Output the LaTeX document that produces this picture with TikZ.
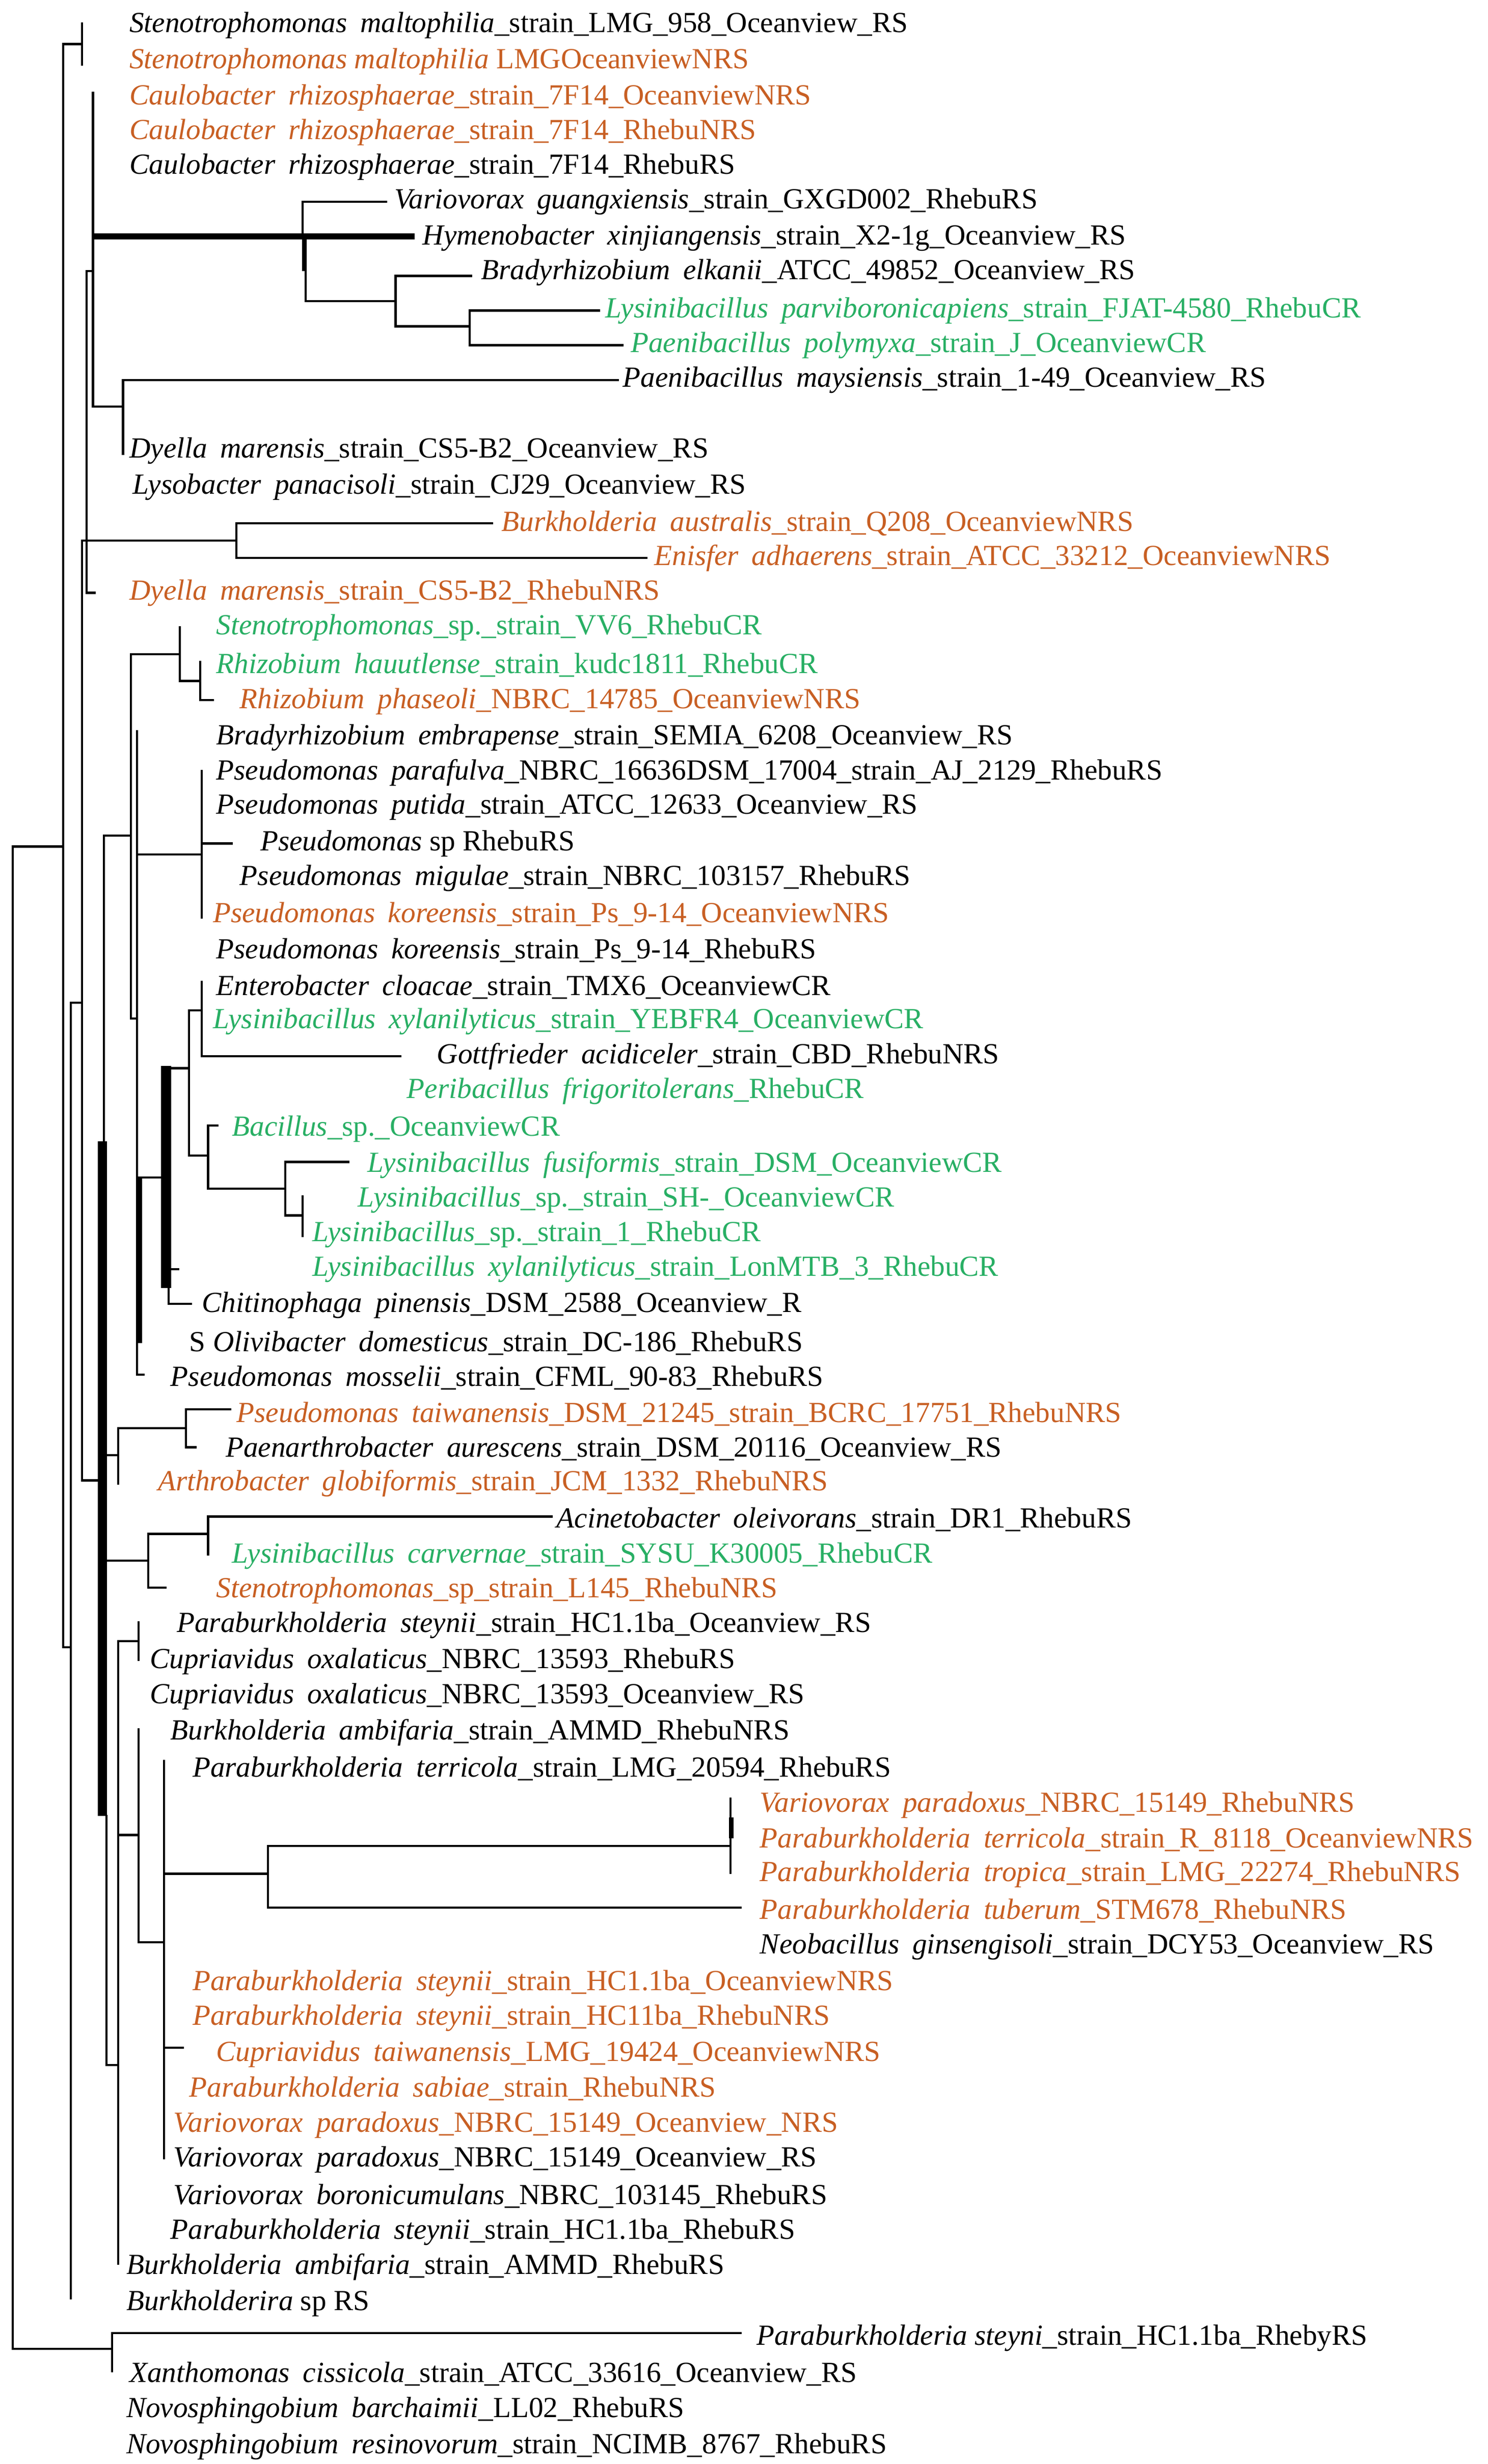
\documentclass[tikz,border=0pt]{standalone}
\usepackage{fontspec}
\setmainfont{Liberation Serif}
\definecolor{org}{RGB}{200,95,35}
\definecolor{grn}{RGB}{40,175,100}
\newcommand\lab[3]{\textit{#1}\hspace{0.45em}\textit{#2}#3}
\begin{document}
\begin{tikzpicture}[x=1pt,y=-1pt,
  tl/.style={anchor=west,inner sep=0pt,font=\fontsize{18.5}{18.5}\selectfont},
  k/.style={tl,text=black}, o/.style={tl,text=org}, g/.style={tl,text=grn},
  br/.style={line width=1.4pt,line cap=rect},
  thk/.style={line width=4pt}]
\useasboundingbox (0,0) rectangle (944,1563);
\fill[white] (0,0) rectangle (944,1563);
% labels
\node[k] (l1) at (82,16) {\lab{Stenotrophomonas}{maltophilia}{\_strain\_LMG\_958\_Oceanview\_RS}};
\node[o] (l2) at (82,39) {\textit{Stenotrophomonas maltophilia} LMGOceanviewNRS};
\node[o] (l3) at (82,62) {\lab{Caulobacter}{rhizosphaerae}{\_strain\_7F14\_OceanviewNRS}};
\node[o] (l4) at (82,84) {\lab{Caulobacter}{rhizosphaerae}{\_strain\_7F14\_RhebuNRS}};
\node[k] (l5) at (82,106) {\lab{Caulobacter}{rhizosphaerae}{\_strain\_7F14\_RhebuRS}};
\node[k] (l6) at (250,128) {\lab{Variovorax}{guangxiensis}{\_strain\_GXGD002\_RhebuRS}};
\node[k] (l7) at (268,151) {\lab{Hymenobacter}{xinjiangensis}{\_strain\_X2-1g\_Oceanview\_RS}};
\node[k] (l8) at (305,173) {\lab{Bradyrhizobium}{elkanii}{\_ATCC\_49852\_Oceanview\_RS}};
\node[g] (l9) at (384,197) {\lab{Lysinibacillus}{parviboronicapiens}{\_strain\_FJAT-4580\_RhebuCR}};
\node[g] (l10) at (400,219) {\lab{Paenibacillus}{polymyxa}{\_strain\_J\_OceanviewCR}};
\node[k] (l11) at (395,241) {\lab{Paenibacillus}{maysiensis}{\_strain\_1-49\_Oceanview\_RS}};
\node[k] (l12) at (82,286) {\lab{Dyella}{marensis}{\_strain\_CS5-B2\_Oceanview\_RS}};
\node[k] (l13) at (84,309) {\lab{Lysobacter}{panacisoli}{\_strain\_CJ29\_Oceanview\_RS}};
\node[o] (l14) at (318,332) {\lab{Burkholderia}{australis}{\_strain\_Q208\_OceanviewNRS}};
\node[o] (l15) at (415,354) {\lab{Enisfer}{adhaerens}{\_strain\_ATCC\_33212\_OceanviewNRS}};
\node[o] (l16) at (82,376) {\lab{Dyella}{marensis}{\_strain\_CS5-B2\_RhebuNRS}};
\node[g] (l17) at (137,398) {\textit{Stenotrophomonas}\_sp.\_strain\_VV6\_RhebuCR};
\node[g] (l18) at (137,422) {\lab{Rhizobium}{hauutlense}{\_strain\_kudc1811\_RhebuCR}};
\node[o] (l19) at (152,445) {\lab{Rhizobium}{phaseoli}{\_NBRC\_14785\_OceanviewNRS}};
\node[k] (l20) at (137,468) {\lab{Bradyrhizobium}{embrapense}{\_strain\_SEMIA\_6208\_Oceanview\_RS}};
\node[k] (l21) at (137,490) {\lab{Pseudomonas}{parafulva}{\_NBRC\_16636DSM\_17004\_strain\_AJ\_2129\_RhebuRS}};
\node[k] (l22) at (137,512) {\lab{Pseudomonas}{putida}{\_strain\_ATCC\_12633\_Oceanview\_RS}};
\node[k] (l23) at (165,535) {\textit{Pseudomonas} sp RhebuRS};
\node[k] (l24) at (152,557) {\lab{Pseudomonas}{migulae}{\_strain\_NBRC\_103157\_RhebuRS}};
\node[o] (l25) at (135,580) {\lab{Pseudomonas}{koreensis}{\_strain\_Ps\_9-14\_OceanviewNRS}};
\node[k] (l26) at (137,603) {\lab{Pseudomonas}{koreensis}{\_strain\_Ps\_9-14\_RhebuRS}};
\node[k] (l27) at (137,626) {\lab{Enterobacter}{cloacae}{\_strain\_TMX6\_OceanviewCR}};
\node[g] (l28) at (135,648) {\lab{Lysinibacillus}{xylanilyticus}{\_strain\_YEBFR4\_OceanviewCR}};
\node[k] (l29) at (277,670) {\lab{Gottfrieder}{acidiceler}{\_strain\_CBD\_RhebuNRS}};
\node[g] (l30) at (258,692) {\lab{Peribacillus}{frigoritolerans}{\_RhebuCR}};
\node[g] (l31) at (147,716) {\textit{Bacillus}\_sp.\_OceanviewCR};
\node[g] (l32) at (233,739) {\lab{Lysinibacillus}{fusiformis}{\_strain\_DSM\_OceanviewCR}};
\node[g] (l33) at (227,761) {\textit{Lysinibacillus}\_sp.\_strain\_SH-\_OceanviewCR};
\node[g] (l34) at (198,783) {\textit{Lysinibacillus}\_sp.\_strain\_1\_RhebuCR};
\node[g] (l35) at (198,805) {\lab{Lysinibacillus}{xylanilyticus}{\_strain\_LonMTB\_3\_RhebuCR}};
\node[k] (l36) at (128,828) {\lab{Chitinophaga}{pinensis}{\_DSM\_2588\_Oceanview\_R}};
\node[k] (l37) at (120,852) {S \lab{Olivibacter}{domesticus}{\_strain\_DC-186\_RhebuRS}};
\node[k] (l38) at (108,874) {\lab{Pseudomonas}{mosselii}{\_strain\_CFML\_90-83\_RhebuRS}};
\node[o] (l39) at (150,897) {\lab{Pseudomonas}{taiwanensis}{\_DSM\_21245\_strain\_BCRC\_17751\_RhebuNRS}};
\node[k] (l40) at (143,919) {\lab{Paenarthrobacter}{aurescens}{\_strain\_DSM\_20116\_Oceanview\_RS}};
\node[o] (l41) at (100,941) {\lab{Arthrobacter}{globiformis}{\_strain\_JCM\_1332\_RhebuNRS}};
\node[k] (l42) at (353,964) {\lab{Acinetobacter}{oleivorans}{\_strain\_DR1\_RhebuRS}};
\node[g] (l43) at (147,987) {\lab{Lysinibacillus}{carvernae}{\_strain\_SYSU\_K30005\_RhebuCR}};
\node[o] (l44) at (137,1009) {\textit{Stenotrophomonas}\_sp\_strain\_L145\_RhebuNRS};
\node[k] (l45) at (112,1031) {\lab{Paraburkholderia}{steynii}{\_strain\_HC1.1ba\_Oceanview\_RS}};
\node[k] (l46) at (95,1054) {\lab{Cupriavidus}{oxalaticus}{\_NBRC\_13593\_RhebuRS}};
\node[k] (l47) at (95,1076) {\lab{Cupriavidus}{oxalaticus}{\_NBRC\_13593\_Oceanview\_RS}};
\node[k] (l48) at (108,1099) {\lab{Burkholderia}{ambifaria}{\_strain\_AMMD\_RhebuNRS}};
\node[k] (l49) at (122,1122) {\lab{Paraburkholderia}{terricola}{\_strain\_LMG\_20594\_RhebuRS}};
\node[o] (l50) at (482,1145) {\lab{Variovorax}{paradoxus}{\_NBRC\_15149\_RhebuNRS}};
\node[o] (l51) at (482,1167) {\lab{Paraburkholderia}{terricola}{\_strain\_R\_8118\_OceanviewNRS}};
\node[o] (l52) at (482,1189) {\lab{Paraburkholderia}{tropica}{\_strain\_LMG\_22274\_RhebuNRS}};
\node[o] (l53) at (482,1212) {\lab{Paraburkholderia}{tuberum}{\_STM678\_RhebuNRS}};
\node[k] (l54) at (482,1235) {\lab{Neobacillus}{ginsengisoli}{\_strain\_DCY53\_Oceanview\_RS}};
\node[o] (l55) at (122,1258) {\lab{Paraburkholderia}{steynii}{\_strain\_HC1.1ba\_OceanviewNRS}};
\node[o] (l56) at (122,1280) {\lab{Paraburkholderia}{steynii}{\_strain\_HC11ba\_RhebuNRS}};
\node[o] (l57) at (137,1303) {\lab{Cupriavidus}{taiwanensis}{\_LMG\_19424\_OceanviewNRS}};
\node[o] (l58) at (120,1325) {\lab{Paraburkholderia}{sabiae}{\_strain\_RhebuNRS}};
\node[o] (l59) at (110,1348) {\lab{Variovorax}{paradoxus}{\_NBRC\_15149\_Oceanview\_NRS}};
\node[k] (l60) at (110,1370) {\lab{Variovorax}{paradoxus}{\_NBRC\_15149\_Oceanview\_RS}};
\node[k] (l61) at (110,1393) {\lab{Variovorax}{boronicumulans}{\_NBRC\_103145\_RhebuRS}};
\node[k] (l62) at (108,1416) {\lab{Paraburkholderia}{steynii}{\_strain\_HC1.1ba\_RhebuRS}};
\node[k] (l63) at (80,1438) {\lab{Burkholderia}{ambifaria}{\_strain\_AMMD\_RhebuRS}};
\node[k] (l64) at (80,1461) {\textit{Burkholderira} sp RS};
\node[k] (l65) at (480,1483) {\textit{Paraburkholderia steyni}\_strain\_HC1.1ba\_RhebyRS};
\node[k] (l66) at (82,1506) {\lab{Xanthomonas}{cissicola}{\_strain\_ATCC\_33616\_Oceanview\_RS}};
\node[k] (l67) at (80,1529) {\lab{Novosphingobium}{barchaimii}{\_LL02\_RhebuRS}};
\node[k] (l68) at (80,1552) {\lab{Novosphingobium}{resinovorum}{\_strain\_NCIMB\_8767\_RhebuRS}};
% ---- tree branches ----
\draw[br] (40,537) -| (8,1490) -- (71,1490);
\draw[br] (71,1480) -- (71,1504);
\draw[br] (71,1480) -- (470,1480);
\draw[br] (52,15) -- (52,41);
\draw[br] (52,28) -| (40,1045) -- (45,1045);
\draw[br] (45,636) -- (45,1458);
\draw[br] (45,636) -- (52,636);
% upper clade
\draw[br] (59,59) -- (59,258) -- (78,258);
\draw[thk] (59,150) -- (263,150);
\draw[br] (192,128) -- (245,128);
\draw[br] (192,128) -- (192,150);
\draw[line width=3pt] (193,150) -- (193,172);
\draw[br] (194,170) |- (251,191);
\draw[br] (251,175) -- (251,207);
\draw[br] (251,175) -- (299,175);
\draw[br] (251,207) -- (298,207);
\draw[br] (298,197) -- (298,219);
\draw[br] (298,197) -- (380,197);
\draw[br] (298,219) -- (395,219);
\draw[br] (78,241) -- (78,288);
\draw[br] (78,241) -- (392,241);
\draw[br] (59,172) -| (55,376) -- (60,376);
\draw[br] (55,343) -- (150,343);
\draw[br] (150,332) -- (150,354);
\draw[br] (150,332) -- (312,332);
\draw[br] (150,354) -- (410,354);
\draw[br] (55,343) -| (52,939) -- (62,939);
% middle clade
\draw[line width=6pt] (65,724) -- (65,1152);
\draw[br] (66,530) -- (66,724);
\draw[br] (67.5,1152) -- (67.5,1310) -- (75,1310);
\draw[br] (66,530) -- (83,530);
\draw[br] (83,415) -- (83,646) -- (87,646);
\draw[br] (83,415) -- (114,415);
\draw[br] (114,398) -- (114,432) -- (127,432);
\draw[br] (127,420) -- (127,444) -- (135,444);
\draw[br] (87,464) -- (87,872) -- (91,872);
\draw[line width=3.5pt] (88.5,747) -- (88.5,852);
\draw[br] (87,542) -- (128,542);
\draw[br] (128,489) -- (128,582);
\draw[br] (128,535) -- (147,535);
\draw[br] (87,747) -- (102,747);
\draw[line width=6.5pt] (105.5,676) -- (105.5,817);
\draw[br] (107,817) -- (107,827) -- (121,827);
\draw[br] (109,805) -- (113,805);
\draw[br] (109,677.6) -- (120,677.6);
\draw[br] (120,641) -- (120,733);
\draw[br] (120,641) -- (128,641);
\draw[br] (128,623) -- (128,670) -- (254,670);
\draw[br] (120,733) -- (132,733);
\draw[br] (132,714) -- (132,754);
\draw[br] (132,714) -- (138,714);
\draw[br] (132,754) -- (181,754);
\draw[br] (181,737) -- (181,771);
\draw[br] (181,737) -- (221,737);
\draw[br] (181,771) -- (192,771);
\draw[br] (192,759) -- (192,784);
% lower-middle
\draw[br] (68,923) -- (75,923);
\draw[br] (75,906) -- (75,941);
\draw[br] (75,906) -- (118,906);
\draw[br] (118,894) -- (118,918);
\draw[br] (118,894) -- (146,894);
\draw[br] (118,918) -- (124,918);
\draw[br] (68,990) -- (94,990);
\draw[br] (94,973) -- (94,1007) -- (105,1007);
\draw[br] (94,973) -- (132,973);
\draw[br] (132,962) -- (132,986);
\draw[br] (132,962) -- (350,962);
% Burkholderia clade
\draw[br] (75,1041) -- (75,1436);
\draw[br] (75,1041) -- (88,1041);
\draw[br] (88,1029) -- (88,1053);
\draw[br] (75,1164) -- (88,1164);
\draw[br] (88,1097) -- (88,1232) -- (104,1232);
\draw[br] (104,1117) -- (104,1369);
\draw[br] (104,1299) -- (116,1299);
\draw[br] (104,1188.6) -- (170,1188.6);
\draw[br] (170,1171) -- (170,1210) -- (470,1210);
\draw[br] (170,1171) -- (463,1171);
\draw[br] (463.5,1141) -- (463.5,1188);
\draw[line width=3pt] (464,1153) -- (464,1166);
\end{tikzpicture}
\end{document}
